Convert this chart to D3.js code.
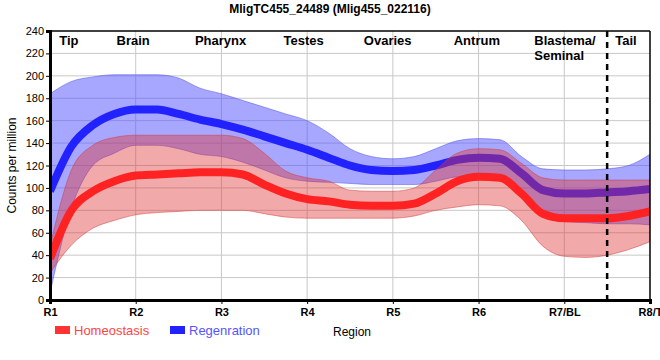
<!DOCTYPE html>
<html>
<head>
<meta charset="utf-8">
<script src="https://cdn.jsdelivr.net/npm/d3@7"></script>
<style>
  body { margin: 0; background: #fff; }
  text { font-family: "Liberation Sans", Arial, sans-serif; }
</style>
</head>
<body>
<div class="chart"></div>
<script>
// positions along the body (1 = R1 ... 8 = R8/T), read every quarter region
var positions = [1, 1.25, 1.5, 1.75, 2, 2.25, 2.5, 2.75, 3, 3.25, 3.5, 3.75, 4, 4.25, 4.5,
                 4.75, 5, 5.25, 5.5, 5.75, 6, 6.25, 6.5, 6.75, 7, 7.25, 7.5, 7.75, 8];

var homeoMean  = [37, 80, 97, 106, 111, 112, 113, 114, 114, 112, 103, 95, 90, 88, 85,
                  84, 84, 86, 95, 106, 110, 109, 95, 77, 73, 73, 73, 75, 79];
var homeoUpper = [48, 116, 138, 145, 147, 147, 147, 147, 147, 144, 131, 115, 109, 106, 98,
                  97, 97, 100, 116, 131, 135, 134, 122, 109, 107, 107, 107, 107, 107];
var homeoLower = [24, 49, 64, 71, 76, 78, 79, 80, 80, 80, 77, 74, 73, 73, 73,
                  73, 73, 75, 80, 83, 85, 84, 71, 48, 39, 38, 40, 45, 52];

var regenMean  = [97, 137, 156, 166, 170, 170, 166, 161, 157, 152, 146, 140, 134, 127, 120,
                  116, 115, 116, 120, 125, 127, 126, 113, 98, 95, 95, 96, 97, 99];
var regenUpper = [184, 195, 199, 201, 201, 201, 198, 189, 184, 178, 172, 166, 160, 149, 135,
                  128, 126, 128, 135, 142, 144, 143, 128, 117, 116, 116, 117, 120, 130];
var regenLower = [6, 82, 120, 131, 138, 138, 135, 130, 128, 123, 116, 109, 106, 105, 104,
                  103, 103, 103, 106, 110, 111, 109, 92, 74, 70, 69, 68, 68, 67];

var xTickValues = [1, 2, 3, 4, 5, 6, 7, 8];
var xTickLabels = ["R1", "R2", "R3", "R4", "R5", "R6", "R7/BL", "R8/T"];
var yTickValues = [0, 20, 40, 60, 80, 100, 120, 140, 160, 180, 200, 220, 240];

var regionNames = ["Tip", "Brain", "Pharynx", "Testes", "Ovaries", "Antrum", "Tail"];
var regionAt    = [1.22, 1.97, 2.99, 3.96, 4.94, 5.98, 7.72];

var svgWidth = 660;
var svgHeight = 360;

var svg = d3.select(".chart")
  .append("svg")
  .attr("width", svgWidth)
  .attr("height", svgHeight);

var x = d3.scaleLinear().domain([1, 8]).range([50, 650]);
var y = d3.scaleLinear().domain([0, 240]).range([300, 31]);

// clip for the plot area
svg.append("clipPath").attr("id", "plot")
  .append("rect")
  .attr("x", x(1)).attr("y", y(240))
  .attr("width", x(8) - x(1)).attr("height", y(0) - y(240));

// grid
svg.append("g")
  .selectAll("line")
  .data(yTickValues.slice(1, -1))
  .enter().append("line")
  .attr("x1", x(1)).attr("x2", x(8))
  .attr("y1", d => y(d)).attr("y2", d => y(d))
  .attr("stroke", "#c8c8c8");

svg.append("g")
  .selectAll("line")
  .data(xTickValues.slice(1, -1))
  .enter().append("line")
  .attr("x1", d => x(d)).attr("x2", d => x(d))
  .attr("y1", y(0)).attr("y2", y(240))
  .attr("stroke", "#c8c8c8");

function band(upper, lower) {
  return d3.area()
    .x((d, i) => x(positions[i]))
    .y0((d, i) => y(lower[i]))
    .y1((d, i) => y(upper[i]))
    .curve(d3.curveMonotoneX)(positions);
}

function meanLine(values) {
  return d3.line()
    .x((d, i) => x(positions[i]))
    .y((d, i) => y(values[i]))
    .curve(d3.curveMonotoneX)(positions);
}

var plot = svg.append("g").attr("clip-path", "url(#plot)");

// regeneration first, homeostasis band sits over the blue line
plot.append("path")
  .attr("d", band(regenUpper, regenLower))
  .attr("fill", "rgba(80,80,255,0.5)")
  .attr("stroke", "rgba(80,80,230,0.5)")
  .attr("stroke-width", 1);

plot.append("path")
  .attr("d", meanLine(regenMean))
  .attr("fill", "none")
  .attr("stroke", "#2222ff")
  .attr("stroke-width", 8);

plot.append("path")
  .attr("d", band(homeoUpper, homeoLower))
  .attr("fill", "rgba(225,50,50,0.42)")
  .attr("stroke", "rgba(210,60,60,0.5)")
  .attr("stroke-width", 1);

plot.append("path")
  .attr("d", meanLine(homeoMean))
  .attr("fill", "none")
  .attr("stroke", "#ff2222")
  .attr("stroke-width", 8);

// dashed boundary between blastema and tail
svg.append("line")
  .attr("x1", x(7.5)).attr("x2", x(7.5))
  .attr("y1", y(240)).attr("y2", y(0) + 5)
  .attr("stroke", "#000")
  .attr("stroke-width", 2.5)
  .attr("stroke-dasharray", "6,5");

// frame
svg.append("line")
  .attr("x1", x(1)).attr("x2", x(8))
  .attr("y1", y(240)).attr("y2", y(240))
  .attr("stroke", "#000").attr("stroke-width", 1.5);
svg.append("line")
  .attr("x1", x(8)).attr("x2", x(8))
  .attr("y1", y(240)).attr("y2", y(0))
  .attr("stroke", "#000").attr("stroke-width", 1.5);

// axes
var yAxis = d3.axisLeft(y).tickValues(yTickValues).tickSize(4).tickPadding(2);
var xAxis = d3.axisBottom(x).tickValues(xTickValues).tickSize(4).tickPadding(4)
  .tickFormat((d, i) => xTickLabels[i]);

var yG = svg.append("g")
  .attr("transform", `translate(${x(1)}, 0)`)
  .call(yAxis);
yG.select(".domain").attr("stroke-width", 3);
yG.selectAll("text").attr("font-size", "11px").attr("fill", "#000")
  .style("font-family", "'Liberation Sans', Arial, sans-serif");

var xG = svg.append("g")
  .attr("transform", `translate(0, ${y(0)})`)
  .call(xAxis);
xG.select(".domain").attr("stroke-width", 3);
xG.selectAll("text").attr("font-size", "11px").attr("font-weight", "bold").attr("fill", "#000")
  .style("font-family", "'Liberation Sans', Arial, sans-serif");

// region names inside the plot
svg.append("g")
  .selectAll("text")
  .data(regionNames)
  .enter().append("text")
  .attr("x", (d, i) => x(regionAt[i]))
  .attr("y", 45)
  .attr("text-anchor", "middle")
  .attr("font-size", "13px")
  .attr("font-weight", "bold")
  .text(d => d);

var blastema = svg.append("text")
  .attr("x", x(6.65))
  .attr("y", 45)
  .attr("font-size", "13px")
  .attr("font-weight", "bold");
blastema.append("tspan").text("Blastema/");
blastema.append("tspan").attr("x", x(6.65)).attr("dy", 15).text("Seminal");

// title
svg.append("text")
  .attr("x", 330)
  .attr("y", 13)
  .attr("text-anchor", "middle")
  .attr("font-size", "12px")
  .attr("font-weight", "bold")
  .text("MligTC455_24489 (Mlig455_022116)");

// axis titles
svg.append("text")
  .attr("transform", `translate(16, ${(y(0) + y(240)) / 2}) rotate(-90)`)
  .attr("text-anchor", "middle")
  .attr("font-size", "12px")
  .text("Counts per million");

svg.append("text")
  .attr("x", 352)
  .attr("y", 336)
  .attr("text-anchor", "middle")
  .attr("font-size", "12px")
  .text("Region");

// legend
var legend = [
  { name: "Homeostasis", swatch: "#ff3333", text: "#ff4444", x: 55 },
  { name: "Regenration", swatch: "#2222ff", text: "#5555ff", x: 170 }
];
legend.forEach(function(l) {
  svg.append("rect")
    .attr("x", l.x).attr("y", 326)
    .attr("width", 15).attr("height", 8)
    .attr("fill", l.swatch);
  svg.append("text")
    .attr("x", l.x + 19).attr("y", 335)
    .attr("font-size", "13px")
    .attr("fill", l.text)
    .text(l.name);
});
</script>
</body>
</html>
